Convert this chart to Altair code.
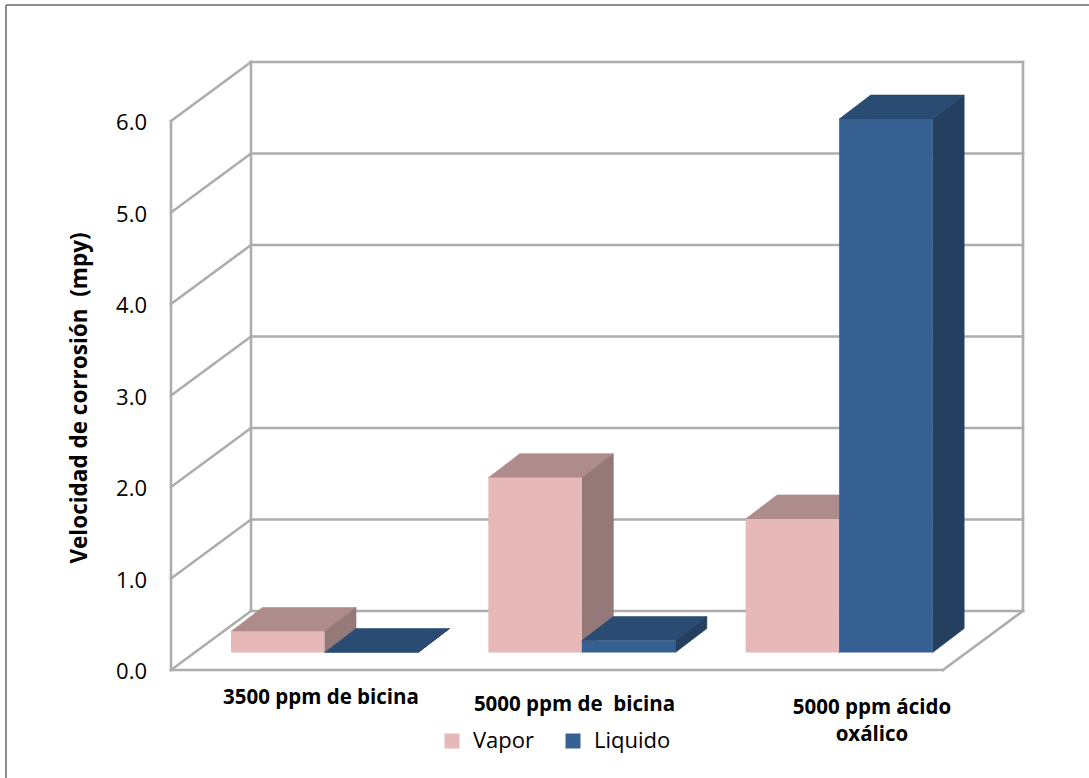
import altair as alt
import pandas as pd

# ---- data -------------------------------------------------------------
categorias = ["3500 ppm de bicina", "5000 ppm de\u00a0 bicina", "5000 ppm ácido\noxálico"]
series = ["Vapor", "Liquido"]
vapor = [0.23, 1.91, 1.46]
liquido = [0.0, 0.13, 5.83]
ticks = [0, 1, 2, 3, 4, 5, 6]
tick_labels = ["0.0", "1.0", "2.0", "3.0", "4.0", "5.0", "6.0"]
y_title = "Velocidad de corrosión\u00a0 (mpy)"

# ---- layout of the oblique 3-D box --------------------------------------
W, H = 1089, 778
PX_X = 257.33            # pixels per category band
PX_Y = 91.5              # pixels per value unit
ORIG_X, ORIG_Y = 171, 670  # pixel position of the front-left floor corner

def dx(px):
    return px / PX_X

def dy(px):
    return px / PX_Y

DEPTH_X, DEPTH_Y = dx(80), dy(59)          # full depth of the floor
BAR_BASE = dy(17.5)                        # bar front plane above floor edge
BAR_DX, BAR_DY = dx(31.5), dy(24)          # depth of each bar
BAR_START = dx(60)
BAR_W = dx(93.5)
N = len(categorias)
VMAX = ticks[-1]

x_dom = [-ORIG_X / PX_X, (W - ORIG_X) / PX_X]
y_dom = [-(H - ORIG_Y) / PX_Y, ORIG_Y / PX_Y]
X = lambda f, **kw: alt.X(f, type="quantitative", scale=alt.Scale(domain=x_dom, nice=False, zero=False), axis=None, **kw)
Y = lambda f, **kw: alt.Y(f, type="quantitative", scale=alt.Scale(domain=y_dom, nice=False, zero=False), axis=None, **kw)

colores = {"Vapor": ("#E6B9B8", "#AE8C8B", "#957878"),
           "Liquido": ("#376092", "#2A4B72", "#243F60")}

# ---- box walls and grid -------------------------------------------------
segs = []
for k in ticks:
    # back wall gridline
    segs.append((DEPTH_X, k + DEPTH_Y, N + DEPTH_X, k + DEPTH_Y))
    # side wall diagonal
    segs.append((0, k, DEPTH_X, k + DEPTH_Y))
segs.append((0, 0, 0, VMAX))                                   # left wall front edge
segs.append((DEPTH_X, DEPTH_Y, DEPTH_X, VMAX + DEPTH_Y))       # back-left edge
segs.append((N + DEPTH_X, DEPTH_Y, N + DEPTH_X, VMAX + DEPTH_Y))  # back-right edge
segs.append((0, 0, N, 0))                                      # floor front edge
segs.append((N, 0, N + DEPTH_X, DEPTH_Y))                      # floor right edge
grid_df = pd.DataFrame(segs, columns=["x", "y", "x2", "y2"])

grid = alt.Chart(grid_df).mark_rule(color="#ADADAD", strokeWidth=2.6, strokeCap="square").encode(
    x=X("x"), y=Y("y"), x2="x2", y2="y2")

# ---- bar faces ----------------------------------------------------------
def faces(j, serie, valores):
    front, top, side = [], [], []
    for i, v in enumerate(valores):
        bid = f"{serie}-{i}"
        x0 = i + BAR_START + j * BAR_W
        x1 = x0 + BAR_W
        yb, yt = BAR_BASE, BAR_BASE + v
        front.append(dict(bid=bid, serie=serie, x=x0, x2=x1, y=yb, y2=yt))
        top += [dict(bid=bid, x=x0, y=yt, y2=yt),
                dict(bid=bid, x=x0 + BAR_DX, y=yt, y2=yt + BAR_DY),
                dict(bid=bid, x=x1, y=yt, y2=yt + BAR_DY),
                dict(bid=bid, x=x1 + BAR_DX, y=yt + BAR_DY, y2=yt + BAR_DY)]
        side += [dict(bid=bid, x=x1, y=yb, y2=yt),
                 dict(bid=bid, x=x1 + BAR_DX, y=yb + BAR_DY, y2=yt + BAR_DY)]
    return pd.DataFrame(front), pd.DataFrame(top), pd.DataFrame(side)

color_enc = alt.Color(
    "serie:N",
    scale=alt.Scale(domain=series, range=[colores[s][0] for s in series]),
    legend=alt.Legend(
        title=None, orient="none", legendX=441, legendY=730, direction="horizontal",
        symbolType="square", symbolSize=225, symbolStrokeWidth=0, symbolOpacity=1,
        labelFont="Open Sans", labelFontSize=22, labelColor="#000000",
        labelOffset=10, columnPadding=27, padding=0,
    ),
)

bar_layers = []
for j, (serie, valores) in enumerate(zip(series, [vapor, liquido])):
    f_df, t_df, s_df = faces(j, serie, valores)
    _, c_top, c_side = colores[serie]
    bar_layers.append(alt.Chart(t_df).mark_area(orient="vertical", color=c_top, stroke=c_top, strokeWidth=0.6)
                      .encode(x=X("x"), y=Y("y"), y2="y2", detail="bid:N"))
    bar_layers.append(alt.Chart(s_df).mark_area(orient="vertical", color=c_side, stroke=c_side, strokeWidth=0.6)
                      .encode(x=X("x"), y=Y("y"), y2="y2", detail="bid:N"))
    bar_layers.append(alt.Chart(f_df).mark_rect()
                      .encode(x=X("x"), x2="x2", y=Y("y"), y2="y2", color=color_enc))

# ---- text ---------------------------------------------------------------
tick_df = pd.DataFrame({"y": ticks, "label": tick_labels, "x": [dx(-24)] * len(ticks)})
tick_text = alt.Chart(tick_df).mark_text(
    align="right", baseline="middle", font="Open Sans", fontSize=22, color="#000000", dy=2
).encode(x=X("x"), y=Y("y"), text="label:N")

cat_df = pd.DataFrame({
    "label": categorias,
    "x": [0.583, 1.568, 2.724],
    "y": [dy(-28), dy(-35), dy(-38)],
})
cat_text = alt.Chart(cat_df).mark_text(
    align="center", baseline="middle", font="Open Sans", fontSize=20.5, fontWeight="bold",
    color="#000000", lineBreak="\n", lineHeight=27
).encode(x=X("x"), y=Y("y"), text="label:N")

title_df = pd.DataFrame({"label": [y_title], "x": [dx(-91)], "y": [dy(272)]})
title_text = alt.Chart(title_df).mark_text(
    align="center", baseline="middle", angle=270, font="Open Sans", fontSize=22.5,
    fontWeight="bold", color="#000000"
).encode(x=X("x"), y=Y("y"), text="label:N")

# ---- outer frame (top and left edges) -----------------------------------
frame = alt.Chart(pd.DataFrame({"k": [0]})).mark_rule(color="#8C8C8C", strokeWidth=2)
frame_top = frame.encode(x=alt.value(6), x2=alt.value(W), y=alt.value(5))
frame_left = frame.encode(x=alt.value(6), y=alt.value(5), y2=alt.value(H))

chart = alt.layer(
    frame_top, frame_left, grid, *bar_layers, tick_text, cat_text, title_text
).properties(
    width=W, height=H, padding=0, autosize=alt.AutoSizeParams(type="none"),
    background="#FFFFFF",
).configure_view(strokeWidth=0)

chart.save("out.html", embed_options={"renderer": "svg", "actions": False})
